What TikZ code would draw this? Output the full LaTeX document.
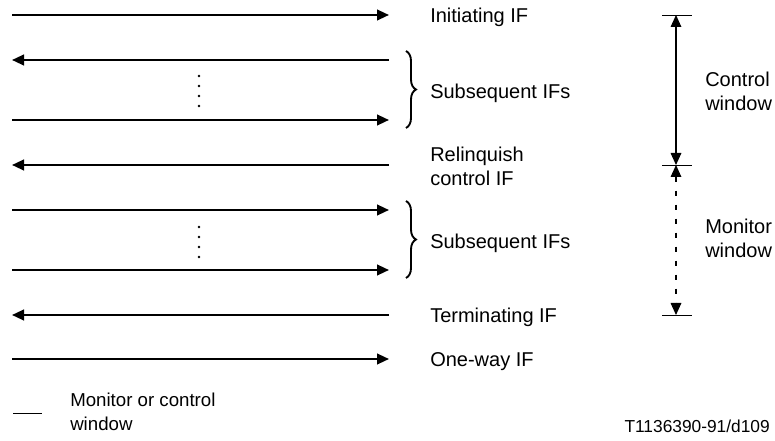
\documentclass[tikz,border=0pt]{standalone}
\usepackage{fontspec}
\setmainfont{Liberation Sans}
\usetikzlibrary{arrows.meta,positioning,decorations.pathreplacing}

\begin{document}
\begin{tikzpicture}[
    x=0.75pt, y=-0.75pt,
    flow/.style={line width=1.6pt},
    window/.style={line width=0.8pt},
    tick/.style={line width=0.6pt},
    iftext/.style={anchor=west, inner sep=0pt, font=\fontsize{15}{18}\selectfont,
                   text height=10.7pt, text depth=0pt},
    wintext/.style={anchor=west, inner sep=0pt, align=left,
                    font=\fontsize{15}{18}\selectfont},
    bracegroup/.style={decorate, decoration={brace, amplitude=7.5pt}, line width=1.4pt},
    >={Triangle[length=9pt, width=8pt]}
  ]
    \useasboundingbox (0,0) rectangle (775,441);

    % Flow end points
    \coordinate (initW) at (12,15);   \coordinate (initE) at (389,15);
    \coordinate (subAW) at (12,60);   \coordinate (subAE) at (389,60);
    \coordinate (subBW) at (12,120);  \coordinate (subBE) at (389,120);
    \coordinate (relW)  at (12,165);  \coordinate (relE)  at (389,165);
    \coordinate (subCW) at (12,210);  \coordinate (subCE) at (389,210);
    \coordinate (subDW) at (12,270);  \coordinate (subDE) at (389,270);
    \coordinate (termW) at (12,315);  \coordinate (termE) at (389,315);
    \coordinate (oneW)  at (12,359);  \coordinate (oneE)  at (389,359);

    % Flows
    \draw[flow, ->] (initW) -- (initE);
    \draw[flow, ->] (subAE) -- (subAW);
    \draw[flow, ->] (subBW) -- (subBE);
    \draw[flow, ->] (relE) -- (relW);
    \draw[flow, ->] (subCW) -- (subCE);
    \draw[flow, ->] (subDW) -- (subDE);
    \draw[flow, ->] (termE) -- (termW);
    \draw[flow, ->] (oneW) -- (oneE);

    % Dots between subsequent flows
    \foreach \y in {76,86,96,106,227,237,247,257}
      \fill (199,\y) circle (1.4);

    % Braces
    \draw[bracegroup] (406,51) -- (406,128);
    \draw[bracegroup] (406,201) -- (406,278);

    % Flow labels
    \node[iftext] (init) at (430,15) {Initiating IF};
    \node[iftext] (subA) at (430,91) {Subsequent IFs};
    \node[wintext] (rel) at (430,166) {Relinquish\\control IF};
    \node[iftext] (subB) at (430,241) {Subsequent IFs};
    \node[iftext] (term) at (430,315) {Terminating IF};
    \node[iftext] (one) at (430,359) {One-way IF};

    % Windows
    \coordinate (ctop) at (676,15);
    \coordinate (cmid) at (676,165);
    \coordinate (cbot) at (676,315);
    \draw[tick] (662,15) -- (692,15);
    \draw[tick] (662,165) -- (692,165);
    \draw[tick] (662,315) -- (692,315);
    \draw[window, <->] (ctop) -- (cmid);
    \draw[window, <->, dash pattern=on 3.75pt off 6.75pt] (cmid) -- (cbot);
    \node[wintext] (ctrl) at (705,91) {Control\\window};
    \node[wintext] (mon) at (705,238) {Monitor\\window};

    % Legend
    \coordinate (keyW) at (13,413);
    \coordinate (keyE) at (42,413);
    \draw[tick] (keyW) -- (keyE);
    \node[wintext, font=\fontsize{14}{18}\selectfont] (key) at (70,412)
      {Monitor or control\\window};
    \node[anchor=base east, inner sep=0pt, font=\fontsize{13}{16}\selectfont] (code)
      at (770,433) {T1136390-91/d109};
  \end{tikzpicture}
\end{document}
